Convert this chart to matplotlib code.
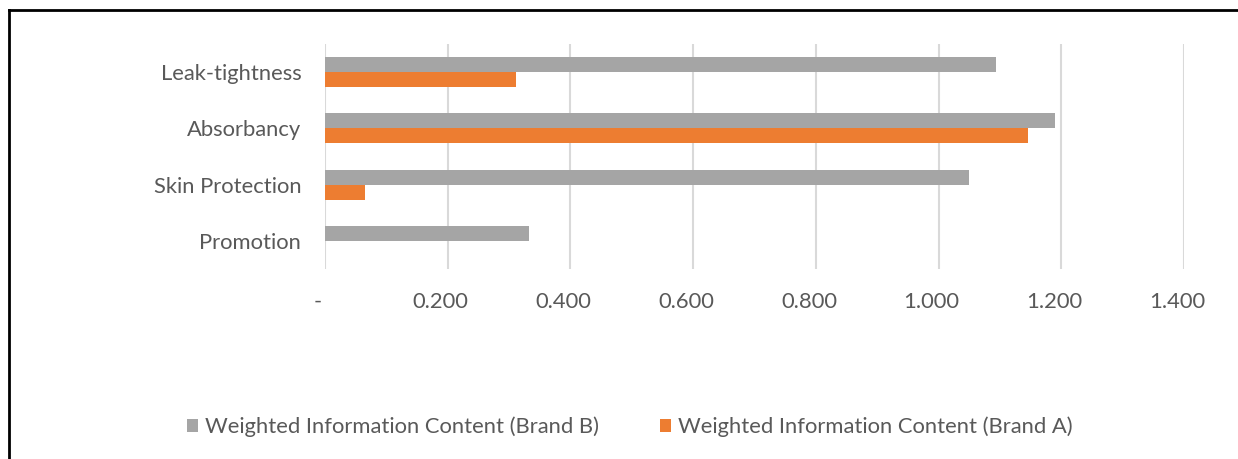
import numpy as np
import matplotlib.pyplot as plt
from matplotlib.lines import Line2D
from matplotlib.ticker import FuncFormatter
from matplotlib.transforms import ScaledTranslation

plt.rcParams['font.family'] = ['Lato', 'DejaVu Sans']

categories = ['Leak-tightness', 'Absorbancy', 'Skin Protection', 'Promotion']
brand_b = [1.093, 1.189, 1.049, 0.332]
brand_a = [0.311, 1.145, 0.066, 0.0]
label_b = 'Weighted Information Content (Brand B)'
label_a = 'Weighted Information Content (Brand A)'

gray = '#a5a5a5'
orange = '#ed7d31'
text_col = '#595959'

fig = plt.figure(figsize=(12.38, 4.59), dpi=100)
ax = fig.add_axes([0.2625, 0.414, 0.694, 0.490])

y = np.arange(len(categories))[::-1]
h = 0.267
ax.barh(y + h / 2, brand_b, height=h, color=gray, label=label_b, zorder=3)
ax.barh(y - h / 2, brand_a, height=h, color=orange, label=label_a, zorder=3)

ax.set_xlim(0, 1.4)
ax.set_ylim(-0.5, 3.5)
ax.set_xticks(np.arange(0, 1.41, 0.2))
ax.xaxis.set_major_formatter(FuncFormatter(lambda v, p: '-' if abs(v) < 1e-9 else f'{v:.3f}'))
ax.set_yticks(y)
ax.set_yticklabels(categories)

ax.grid(axis='x', color='#d9d9d9', linewidth=1.5, zorder=0)
for s in ax.spines.values():
    s.set_visible(False)
fs = 15.8
ax.tick_params(axis='both', length=0, colors=text_col, labelsize=fs)
ax.tick_params(axis='x', pad=16.5)
ax.tick_params(axis='y', pad=17)

# excel puts the value labels a little left of the gridlines
shift = ScaledTranslation(-7 / 100, 0, fig.dpi_scale_trans)
for lab in ax.get_xticklabels():
    lab.set_transform(lab.get_transform() + shift)

fig.legend(loc='center', bbox_to_anchor=(0.5 + 11 / 1238, 1 - 427 / 459), ncol=2, frameon=False,
           fontsize=fs, labelcolor=text_col, handlelength=0.5, handleheight=0.5,
           handletextpad=0.32, columnspacing=2.8)

# outer frame (left and top edges only)
fig.add_artist(Line2D([9 / 1238, 9 / 1238], [0, 1 - 9.5 / 459], color='black', linewidth=2))
fig.add_artist(Line2D([9 / 1238, 1], [1 - 9.5 / 459, 1 - 9.5 / 459], color='black', linewidth=2))

fig.savefig('out.png', dpi=100)
